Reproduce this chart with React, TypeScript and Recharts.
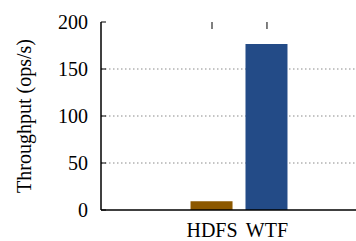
import React from 'react';
import { BarChart, Bar, XAxis, YAxis, CartesianGrid, Cell } from 'recharts';

const systems = ['HDFS', 'WTF'];
const positions = [1, 2];
const throughput = [9.2, 176.5];
const colors = ['#8c5800', '#234b87'];
const yTicks = [0, 50, 100, 150, 200];

const data = systems.map((name, i) => ({ name, x: positions[i], value: throughput[i] }));

const FONT = "'Liberation Serif', 'Times New Roman', serif";
const TOP = 22;

// force the serif face even if some stylesheet overrides svg text
const serifRef = (el: SVGTextElement | null) => {
  if (el) el.style.setProperty('font-family', FONT, 'important');
};

const SerifText = (props: any) => (
  <text ref={serifRef} fontFamily={FONT} fontSize={20} fill="#000" {...props} />
);

// bottom label plus the mirrored inward tick on the top border
const XTick = (props: any) => {
  const { x, y, payload } = props;
  const name = systems[positions.indexOf(payload.value)] ?? '';
  return (
    <g>
      <line x1={x} x2={x} y1={TOP} y2={TOP + 7} stroke="#000" strokeWidth={1} />
      <SerifText x={x} y={y + 27} textAnchor="middle">
        {name}
      </SerifText>
    </g>
  );
};

const YTick = (props: any) => {
  const { x, y, payload } = props;
  return (
    <g>
      <line x1={x} x2={x + 5} y1={y} y2={y} stroke="#000" strokeWidth={1} />
      <SerifText x={x - 13} y={y + 7} textAnchor="end">
        {payload.value}
      </SerifText>
    </g>
  );
};

const YLabel = (props: any) => {
  const vb = props.viewBox || { y: TOP, height: 188 };
  const cy = vb.y + vb.height / 2;
  return (
    <SerifText x={31} y={cy} transform={`rotate(-90, 31, ${cy})`} textAnchor="middle">
      Throughput (ops/s)
    </SerifText>
  );
};

const App: React.FC = () => {
  return (
    <div style={{ position: 'absolute', left: 0, top: 0, width: 356, height: 241, background: '#fff' }}>
      <BarChart
        width={356}
        height={241}
        data={data}
        margin={{ top: TOP, right: 0, bottom: 0, left: 0 }}
      >
        <CartesianGrid
          horizontal
          vertical={false}
          stroke="#8a8a8a"
          strokeDasharray="1.5 2.5"
          horizontalValues={[50, 100, 150]}
        />
        <XAxis
          xAxisId="bottom"
          dataKey="x"
          type="number"
          domain={[-1.02, 3.62]}
          ticks={positions}
          tickLine={false}
          tickSize={0}
          tickMargin={0}
          axisLine={{ stroke: '#000', strokeWidth: 1.5 }}
          tick={<XTick />}
          height={31}
          interval={0}
        />
        <XAxis
          xAxisId="top"
          orientation="top"
          dataKey="x"
          type="number"
          domain={[-1.02, 3.62]}
          tick={false}
          tickLine={false}
          axisLine={{ stroke: '#000', strokeWidth: 1.5 }}
          height={0}
        />
        <YAxis
          domain={[0, 200]}
          ticks={yTicks}
          width={101}
          tickSize={0}
          tickMargin={0}
          tickLine={false}
          axisLine={{ stroke: '#000', strokeWidth: 1.5 }}
          tick={<YTick />}
          label={<YLabel />}
          interval={0}
        />
        <Bar dataKey="value" xAxisId="bottom" barSize={42} isAnimationActive={false}>
          {data.map((d, i) => (
            <Cell key={d.name} fill={colors[i]} />
          ))}
        </Bar>
      </BarChart>
    </div>
  );
};

export default App;
